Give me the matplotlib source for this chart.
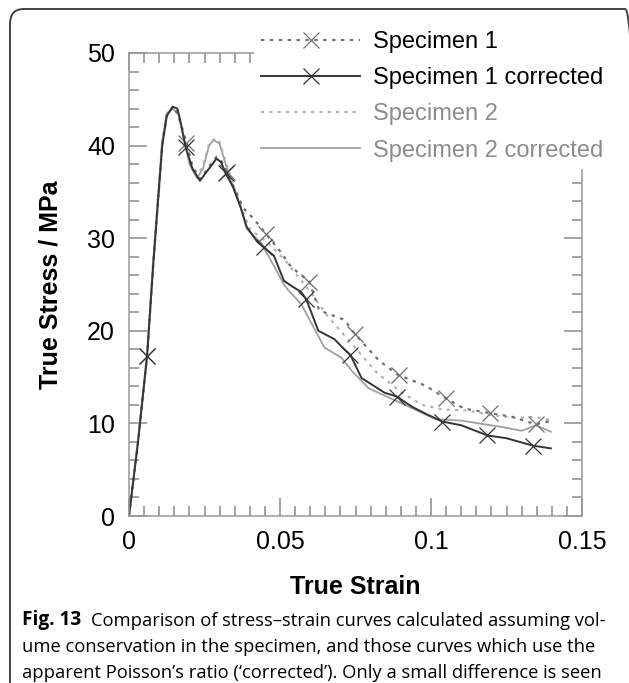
import numpy as np
import matplotlib
matplotlib.use('Agg')
import matplotlib.pyplot as plt
from matplotlib.patches import FancyBboxPatch
from matplotlib.ticker import MultipleLocator

# datos
s1_strain = [0, 0.003, 0.006, 0.008, 0.011, 0.0125, 0.0145, 0.016, 0.0175, 0.019, 0.021, 0.0235,
             0.026, 0.029, 0.0305, 0.0325, 0.035, 0.038, 0.0413, 0.0453, 0.050, 0.0537, 0.0597,
             0.063, 0.0713, 0.0747, 0.0827, 0.0893, 0.098, 0.105, 0.111, 0.1197, 0.127, 0.1347, 0.1400]
s1_stress = [0, 8.0, 17.3, 27.0, 40.0, 43.2, 44.2, 43.5, 42.0, 40.3, 37.8, 36.4,
             37.5, 38.8, 38.4, 37.1, 35.3, 33.2, 32.1, 30.5, 28.6, 26.9, 25.3,
             22.2, 21.2, 19.7, 16.8, 15.2, 14.1, 12.7, 11.6, 11.1, 10.7, 9.9, 10.3]
s1_marks = [0.006, 0.019, 0.0325, 0.0453, 0.0597, 0.0747, 0.0893, 0.105, 0.1197, 0.1347]

s1c_strain = [0, 0.003, 0.006, 0.008, 0.011, 0.0125, 0.0145, 0.016, 0.0167, 0.0188, 0.021, 0.0235,
              0.026, 0.029, 0.0305, 0.032, 0.0345, 0.037, 0.039, 0.0425, 0.0447, 0.048, 0.0513,
              0.054, 0.057, 0.0587, 0.0627, 0.068, 0.0713, 0.0733, 0.077, 0.0847, 0.0887, 0.0937,
              0.0985, 0.1037, 0.110, 0.1187, 0.125, 0.1337, 0.1397]
s1c_stress = [0, 8.0, 17.3, 27.0, 40.0, 43.2, 44.2, 44.0, 43.1, 39.8, 37.5, 36.2,
              37.3, 38.6, 38.2, 37.0, 35.5, 33.3, 31.2, 29.6, 29.0, 28.1, 25.4,
              24.8, 24.2, 23.4, 20.0, 19.1, 18.0, 17.4, 14.9, 13.3, 12.9, 11.8,
              11.0, 10.2, 9.8, 8.7, 8.4, 7.6, 7.3]
s1c_marks = [0.006, 0.0188, 0.032, 0.0447, 0.0587, 0.0733, 0.0887, 0.1037, 0.1187, 0.1337]

s2_strain = [0, 0.003, 0.006, 0.008, 0.011, 0.0125, 0.0145, 0.0165, 0.018, 0.020, 0.0225, 0.0245,
             0.0265, 0.0285, 0.030, 0.032, 0.0345, 0.037, 0.040, 0.046, 0.052, 0.060, 0.066,
             0.074, 0.082, 0.090, 0.097, 0.104, 0.112, 0.120, 0.128, 0.134, 0.1405]
s2_stress = [0, 8.3, 17.6, 27.5, 40.5, 43.5, 44.0, 43.4, 41.2, 38.2, 36.7, 37.8,
             40.2, 40.8, 40.4, 38.3, 35.8, 33.5, 31.0, 29.5, 27.5, 24.2, 21.5,
             18.5, 15.5, 13.4, 12.0, 11.5, 11.4, 10.9, 10.6, 10.7, 10.3]

s2c_strain = [0, 0.003, 0.006, 0.008, 0.011, 0.0125, 0.0145, 0.0165, 0.018, 0.020, 0.0225, 0.0245,
              0.0265, 0.028, 0.030, 0.032, 0.0345, 0.037, 0.039, 0.0437, 0.048, 0.0513, 0.0527,
              0.057, 0.0647, 0.0703, 0.0737, 0.0793, 0.088, 0.1013, 0.1047, 0.110, 0.1237, 0.130,
              0.1347, 0.1397]
s2c_stress = [0, 8.3, 17.6, 27.5, 40.5, 43.5, 44.0, 43.3, 41.0, 38.0, 36.5, 37.5,
              40.0, 40.6, 40.2, 38.0, 35.5, 33.3, 31.0, 29.5, 27.0, 25.0, 24.4,
              22.9, 18.2, 17.1, 15.7, 13.8, 12.5, 10.5, 10.4, 10.3, 9.6, 9.2,
              9.8, 9.1]

labels = ['Specimen 1', 'Specimen 1 corrected', 'Specimen 2', 'Specimen 2 corrected']
label_colors = ['black', 'black', '#8c8c8c', '#8c8c8c']

caption = ['Comparison of stress\u2013strain curves calculated assuming vol-',
           'ume conservation in the specimen, and those curves which use the',
           'apparent Poisson\u2019s ratio (\u2018corrected\u2019). Only a small difference is seen']

plt.rcParams['font.family'] = ['Liberation Sans', 'DejaVu Sans']

fig = plt.figure(figsize=(6.29, 6.83), dpi=100)
W, H = 629, 683

# marco redondeado de la figura
frame = FancyBboxPatch((10 / W, -0.05), 1.0, 1.05 - 9 / H,
                       boxstyle='round,pad=0,rounding_size=0.022',
                       transform=fig.transFigure, fill=False,
                       edgecolor='#444444', linewidth=1.4)
fig.patches.append(frame)

ax = fig.add_axes([129 / W, (H - 516) / H, 453 / W, 463 / H])


def idx(strain, marks):
    return list(np.flatnonzero(np.isin(strain, marks)))


ax.plot(s2c_strain, s2c_stress, color='#a0a0a0', lw=1.3, label=labels[3])
ax.plot(s2_strain, s2_stress, color='#b0b0b0', lw=1.5, ls=(0, (1.5, 2.5)), label=labels[2])
ax.plot(s1_strain, s1_stress, color='#707070', lw=1.6, ls=(0, (1.5, 2.5)),
        marker='x', ms=11, mew=0.9, markevery=idx(s1_strain, s1_marks), label=labels[0])
ax.plot(s1c_strain, s1c_stress, color='#353535', lw=1.4,
        marker='x', ms=11, mew=0.9, markevery=idx(s1c_strain, s1c_marks), label=labels[1])

ax.set_xlim(0, 0.15)
ax.set_ylim(0, 50)
ax.xaxis.set_major_locator(MultipleLocator(0.05))
ax.xaxis.set_minor_locator(MultipleLocator(0.005))
ax.yaxis.set_major_locator(MultipleLocator(10))
ax.yaxis.set_minor_locator(MultipleLocator(2))
ax.xaxis.set_major_formatter(plt.FuncFormatter(lambda v, p: f'{v:g}'))
ax.tick_params(which='both', direction='in', top=True, right=True, color='#8a8a8a', width=1.1)
ax.tick_params(which='major', length=13, labelsize=18, pad=10)
ax.tick_params(which='minor', length=7)
for sp in ax.spines.values():
    sp.set_color('#999999')
    sp.set_linewidth(1.1)

ax.set_xlabel('True Strain', fontsize=18, fontweight='bold', labelpad=15)
ax.set_ylabel('True Stress / MPa', fontsize=18, fontweight='bold', labelpad=18)

h, l = ax.get_legend_handles_labels()
order = [2, 3, 1, 0]
leg = ax.legend([h[i] for i in order], [l[i] for i in order],
                loc='upper left', bbox_to_anchor=(254 / W, 1 - 24 / H),
                bbox_transform=fig.transFigure, fontsize=17, frameon=True,
                facecolor='white', edgecolor='none', framealpha=1, fancybox=False,
                handlelength=4.2, handletextpad=0.55, labelspacing=0.6,
                borderpad=0.3, borderaxespad=0)
for t, c in zip(leg.get_texts(), label_colors):
    t.set_color(c)

# pie de figura
fs = 13.2
y0 = 1 - 620 / H
dy = 26.5 / H
tb = fig.text(22 / W, y0, 'Fig. 13', fontsize=fs + 0.5, fontweight='bold',
              family=['Open Sans', 'DejaVu Sans'], va='center')
ax.annotate(caption[0], xy=(1, 0), xycoords=tb, xytext=(7, 0), textcoords='offset points',
            fontsize=fs, family=['Open Sans', 'DejaVu Sans'], va='bottom', ha='left',
            annotation_clip=False)
for i, line in enumerate(caption[1:], start=1):
    fig.text(22 / W, y0 - i * dy, line, fontsize=fs, family=['Open Sans', 'DejaVu Sans'], va='center')

fig.savefig('out.png', dpi=100)
